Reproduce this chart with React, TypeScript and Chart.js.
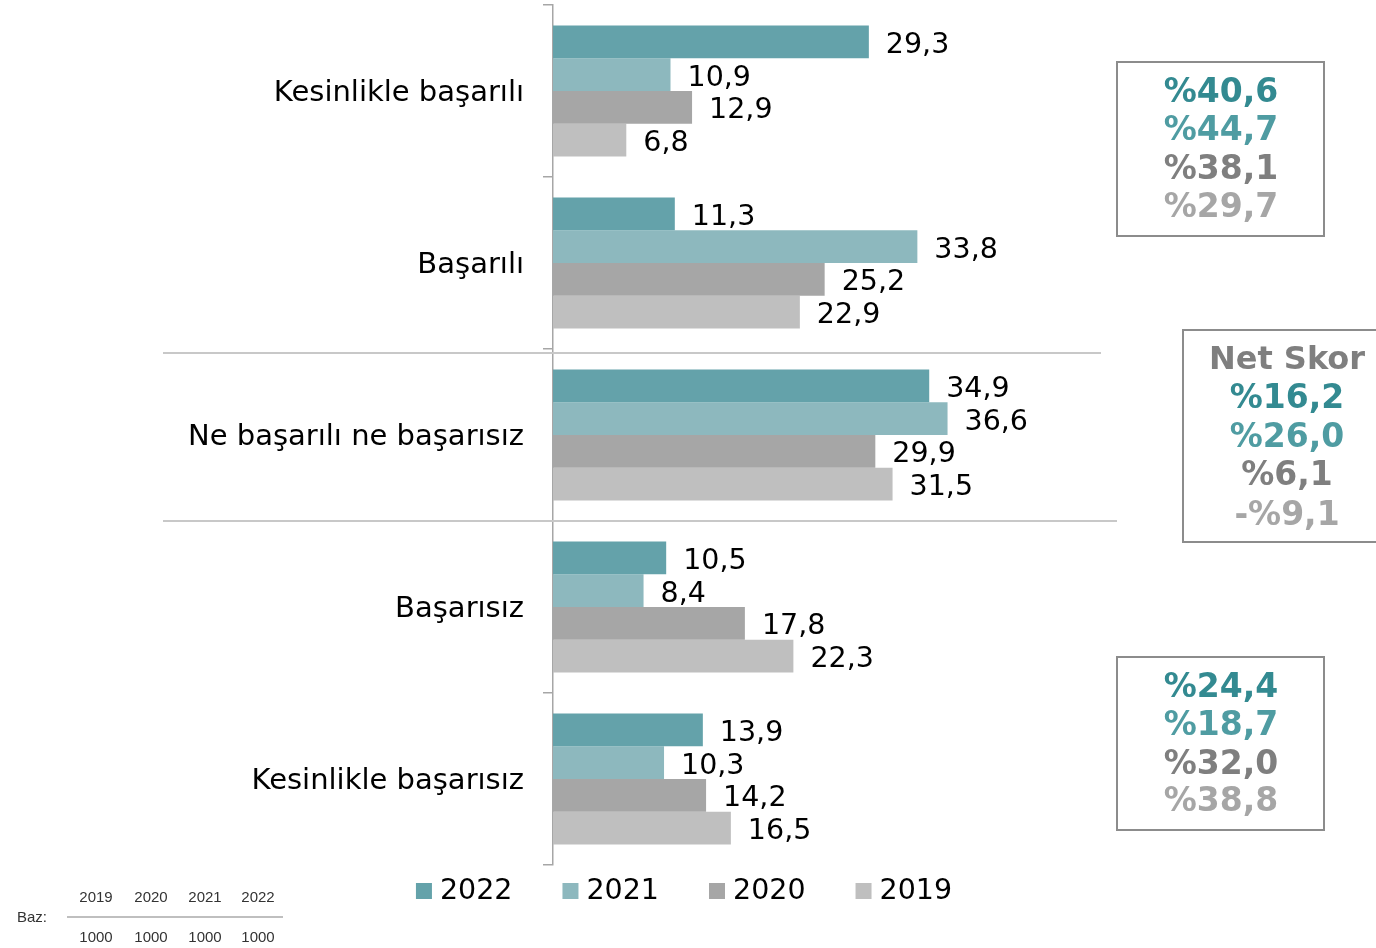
import React, { useEffect, useRef } from "react";
import { Chart, registerables } from "chart.js";

Chart.register(...registerables);

const categories = [
  "Kesinlikle başarılı",
  "Başarılı",
  "Ne başarılı ne başarısız",
  "Başarısız",
  "Kesinlikle başarısız",
];
const seriesLabels = ["2022", "2021", "2020", "2019"];
const values2022 = [29.3, 11.3, 34.9, 10.5, 13.9];
const values2021 = [10.9, 33.8, 36.6, 8.4, 10.3];
const values2020 = [12.9, 25.2, 29.9, 17.8, 14.2];
const values2019 = [6.8, 22.9, 31.5, 22.3, 16.5];
const seriesColors = ["#64A2AA", "#8DB8BE", "#A6A6A6", "#BFBFBF"];

const topBoxValues = ["%40,6", "%44,7", "%38,1", "%29,7"];
const netScoreTitle = "Net Skor";
const netScoreValues = ["%16,2", "%26,0", "%6,1", "-%9,1"];
const bottomBoxValues = ["%24,4", "%18,7", "%32,0", "%38,8"];
const boxTextColors = ["#338A91", "#4F9CA2", "#7F7F7F", "#A6A6A6"];

const bazYears = ["2019", "2020", "2021", "2022"];
const bazCounts = ["1000", "1000", "1000", "1000"];

const FONT = "'DejaVu Sans', Verdana, sans-serif";

const fmt = (v: number) => v.toFixed(1).replace(".", ",");

const extrasPlugin = {
  id: "extras",
  afterDatasetsDraw(chart: any) {
    const ctx = chart.ctx;
    ctx.save();
    // value labels
    ctx.font = `28.5px ${FONT}`;
    ctx.fillStyle = "#000";
    ctx.textBaseline = "middle";
    ctx.textAlign = "left";
    chart.data.datasets.forEach((ds: any, di: number) => {
      const meta = chart.getDatasetMeta(di);
      meta.data.forEach((bar: any, i: number) => {
        ctx.fillText(fmt(ds.data[i]), bar.x + 17, bar.y + 3.5);
      });
    });

    // separator lines
    const ys = chart.scales.y;
    const b1 = (ys.getPixelForValue(1) + ys.getPixelForValue(2)) / 2;
    const b2 = (ys.getPixelForValue(2) + ys.getPixelForValue(3)) / 2;
    ctx.strokeStyle = "#C8C8C8";
    ctx.lineWidth = 2;
    ctx.beginPath();
    ctx.moveTo(163, b1 + 4);
    ctx.lineTo(1101, b1 + 4);
    ctx.moveTo(163, b2);
    ctx.lineTo(1117, b2);
    ctx.stroke();

    // boxes
    const drawBox = (x: number, y: number, w: number, h: number) => {
      ctx.strokeStyle = "#8C8C8C";
      ctx.lineWidth = 2;
      ctx.strokeRect(x, y, w, h);
    };
    ctx.font = `bold 33px ${FONT}`;
    ctx.textAlign = "center";
    drawBox(1117, 62, 207, 174);
    const topYs = [93, 131, 170, 208];
    topBoxValues.forEach((t, i) => {
      ctx.fillStyle = boxTextColors[i];
      ctx.fillText(t, 1221, topYs[i]);
    });
    drawBox(1183, 330, 200, 212);
    ctx.font = `bold 32px ${FONT}`;
    ctx.fillStyle = "#7F7F7F";
    ctx.fillText(netScoreTitle, 1287, 361);
    ctx.font = `bold 33px ${FONT}`;
    const netYs = [399, 438, 476, 516];
    netScoreValues.forEach((t, i) => {
      ctx.fillStyle = boxTextColors[i];
      ctx.fillText(t, 1287, netYs[i]);
    });
    drawBox(1117, 657, 207, 173);
    const botYs = [688, 726, 765, 802];
    bottomBoxValues.forEach((t, i) => {
      ctx.fillStyle = boxTextColors[i];
      ctx.fillText(t, 1221, botYs[i]);
    });

    // legend
    ctx.font = `28.5px ${FONT}`;
    ctx.textAlign = "left";
    const gap = 50;
    const items = chart.data.datasets.map((ds: any) => ({
      label: ds.label,
      color: ds.backgroundColor,
      w: 16 + 8 + ctx.measureText(ds.label).width,
    }));
    const total = items.reduce((s: number, it: any) => s + it.w, 0) + gap * (items.length - 1);
    let lx = 684 - total / 2;
    const ly = 891;
    items.forEach((it: any) => {
      ctx.fillStyle = it.color;
      ctx.fillRect(lx, ly - 8, 16, 16);
      ctx.fillStyle = "#000";
      ctx.fillText(it.label, lx + 24, ly + 1);
      lx += it.w + gap;
    });

    // baz table
    ctx.font = `15px 'Liberation Sans', Arial, sans-serif`;
    ctx.fillStyle = "#333";
    ctx.textAlign = "left";
    ctx.fillText("Baz:", 17, 918);
    ctx.textAlign = "center";
    const bx = [96, 151, 205, 258];
    bazYears.forEach((t, i) => ctx.fillText(t, bx[i], 898));
    bazCounts.forEach((t, i) => ctx.fillText(t, bx[i], 938));
    ctx.strokeStyle = "#BFBFBF";
    ctx.lineWidth = 2;
    ctx.beginPath();
    ctx.moveTo(67, 917);
    ctx.lineTo(283, 917);
    ctx.stroke();

    ctx.restore();
  },
};

export default function App() {
  const ref = useRef<HTMLCanvasElement | null>(null);
  useEffect(() => {
    if (!ref.current) return;
    const series = [values2022, values2021, values2020, values2019];
    const chart = new Chart(ref.current, {
      type: "bar",
      data: {
        labels: categories,
        datasets: series.map((d, i) => ({
          label: seriesLabels[i],
          data: d,
          backgroundColor: seriesColors[i],
          borderWidth: 0,
          categoryPercentage: 0.762,
          barPercentage: 1,
        })),
      },
      options: {
        indexAxis: "y",
        animation: false,
        responsive: false,
        devicePixelRatio: 1,
        layout: { padding: { top: 5, bottom: 83, right: 284, left: 0 } },
        plugins: {
          legend: { display: false },
          tooltip: { enabled: false },
        },
        scales: {
          x: { display: false, min: 0, max: 50 },
          y: {
            afterFit: (s: any) => {
              s.width = 553;
              s.paddingTop = 0;
              s.paddingBottom = 0;
            },
            grid: {
              drawOnChartArea: false,
              drawTicks: true,
              tickLength: 10,
              color: "#A6A6A6",
              lineWidth: 1.5,
            },
            border: { display: true, color: "#A6A6A6", width: 1.5 },
            ticks: {
              padding: 19,
              labelOffset: 2,
              color: "#000",
              font: { family: FONT, size: 29 },
            },
          },
        },
      },
      plugins: [extrasPlugin],
    });
    return () => chart.destroy();
  }, []);
  return (
    <div style={{ position: "absolute", left: 0, top: 0, width: 1376, height: 948 }}>
      <canvas ref={ref} width={1376} height={948} />
    </div>
  );
}
